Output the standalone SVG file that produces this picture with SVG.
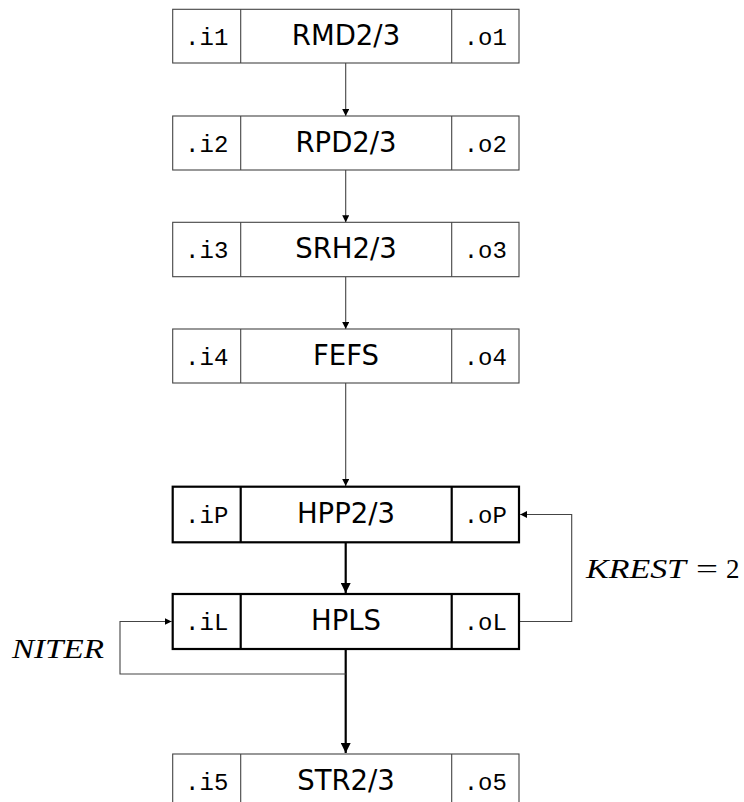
<svg xmlns="http://www.w3.org/2000/svg" width="744" height="802" viewBox="0 0 744 802">
  <style>
    .thin { fill: #fff; stroke: #444; stroke-width: 1.1; }
    .thick { fill: #fff; stroke: #000; stroke-width: 2.2; }
    .div { stroke: #444; stroke-width: 1.1; }
    .divk { stroke: #000; stroke-width: 2.2; }
    .name { font-family: "DejaVu Sans", "Liberation Sans", sans-serif; font-size: 27.5px; text-anchor: middle; fill: #000; }
    .port { font-family: "Liberation Mono", "DejaVu Sans Mono", monospace; font-size: 24px; text-anchor: middle; fill: #000; }
    .math { font-family: "Liberation Serif", "DejaVu Serif", serif; font-style: italic; font-size: 27px; fill: #000; }
    .rm { font-family: "Liberation Serif", "DejaVu Serif", serif; font-size: 27px; fill: #000; }
    .conn { fill: none; stroke: #444; stroke-width: 1.1; }
    .connk { fill: none; stroke: #000; stroke-width: 2.2; }
  </style>
  <defs>
    <marker id="ah" viewBox="0 0 10 10" refX="10" refY="5" markerUnits="userSpaceOnUse" markerWidth="7" markerHeight="7" orient="auto">
      <path d="M0,0 L10,5 L0,10 z" fill="#000"/>
    </marker>
    <marker id="ahk" viewBox="0 0 10 10" refX="10" refY="5" markerUnits="userSpaceOnUse" markerWidth="13" markerHeight="10" orient="auto">
      <path d="M0,0 L10,5 L0,10 z" fill="#000"/>
    </marker>
  </defs>

  <!-- connectors -->
  <g id="connectors">
    <line class="conn" x1="345.7" y1="63" x2="345.7" y2="116" marker-end="url(#ah)"/>
    <line class="conn" x1="345.7" y1="170" x2="345.7" y2="222.3" marker-end="url(#ah)"/>
    <line class="conn" x1="345.7" y1="276.7" x2="345.7" y2="329" marker-end="url(#ah)"/>
    <line class="conn" x1="345.7" y1="383" x2="345.7" y2="486" marker-end="url(#ah)"/>
    <line class="connk" x1="345.7" y1="542.3" x2="345.7" y2="593" marker-end="url(#ahk)"/>
    <line class="connk" x1="345.7" y1="649" x2="345.7" y2="753" marker-end="url(#ahk)"/>
    <!-- NITER loop -->
    <polyline class="conn" points="345.7,674 120,674 120,621.5 171.6,621.5" marker-end="url(#ah)"/>
    <!-- KREST loop -->
    <polyline class="conn" points="520,621.5 571.7,621.5 571.7,514.5 520.2,514.5" marker-end="url(#ah)"/>
  </g>

  <g id="rmd">
    <rect class="thin" x="172.7" y="9.3" width="346.3" height="53.7"/>
    <line class="div" x1="240.7" y1="9.3" x2="240.7" y2="63"/>
    <line class="div" x1="451.7" y1="9.3" x2="451.7" y2="63"/>
    <text class="port" x="206.7" y="44.5">.i1</text>
    <text class="name" x="346" y="44.5">RMD2/3</text>
    <text class="port" x="485.3" y="44.5">.o1</text>
  </g>

  <g id="rpd">
    <rect class="thin" x="172.7" y="116" width="346.3" height="54"/>
    <line class="div" x1="240.7" y1="116" x2="240.7" y2="170"/>
    <line class="div" x1="451.7" y1="116" x2="451.7" y2="170"/>
    <text class="port" x="206.7" y="151.5">.i2</text>
    <text class="name" x="346" y="151.5">RPD2/3</text>
    <text class="port" x="485.3" y="151.5">.o2</text>
  </g>

  <g id="srh">
    <rect class="thin" x="172.7" y="222.3" width="346.3" height="54.4"/>
    <line class="div" x1="240.7" y1="222.3" x2="240.7" y2="276.7"/>
    <line class="div" x1="451.7" y1="222.3" x2="451.7" y2="276.7"/>
    <text class="port" x="206.7" y="258">.i3</text>
    <text class="name" x="346" y="258">SRH2/3</text>
    <text class="port" x="485.3" y="258">.o3</text>
  </g>

  <g id="fefs">
    <rect class="thin" x="172.7" y="329" width="346.3" height="54"/>
    <line class="div" x1="240.7" y1="329" x2="240.7" y2="383"/>
    <line class="div" x1="451.7" y1="329" x2="451.7" y2="383"/>
    <text class="port" x="206.7" y="364.5">.i4</text>
    <text class="name" x="346" y="364.5">FEFS</text>
    <text class="port" x="485.3" y="364.5">.o4</text>
  </g>

  <g id="hpp">
    <rect class="thick" x="172.7" y="486.7" width="346.3" height="55.6"/>
    <line class="divk" x1="240.7" y1="486.7" x2="240.7" y2="542.3"/>
    <line class="divk" x1="451.7" y1="486.7" x2="451.7" y2="542.3"/>
    <text class="port" x="206.7" y="523">.iP</text>
    <text class="name" x="346" y="523">HPP2/3</text>
    <text class="port" x="485.3" y="523">.oP</text>
  </g>

  <g id="hpls">
    <rect class="thick" x="172.7" y="594" width="346.3" height="55"/>
    <line class="divk" x1="240.7" y1="594" x2="240.7" y2="649"/>
    <line class="divk" x1="451.7" y1="594" x2="451.7" y2="649"/>
    <text class="port" x="206.7" y="630">.iL</text>
    <text class="name" x="346" y="630">HPLS</text>
    <text class="port" x="485.3" y="630">.oL</text>
  </g>

  <g id="str">
    <rect class="thin" x="172.7" y="754" width="346.3" height="60"/>
    <line class="div" x1="240.7" y1="754" x2="240.7" y2="802"/>
    <line class="div" x1="451.7" y1="754" x2="451.7" y2="802"/>
    <text class="port" x="206.7" y="790">.i5</text>
    <text class="name" x="346" y="790">STR2/3</text>
    <text class="port" x="485.3" y="790">.o5</text>
  </g>

  <g id="labels">
    <text class="math" x="12" y="658" textLength="92" lengthAdjust="spacingAndGlyphs">NITER</text>
    <text class="math" x="586" y="578.3" textLength="100" lengthAdjust="spacingAndGlyphs">KREST</text>
    <text class="rm" x="696" y="578.3" textLength="22" lengthAdjust="spacingAndGlyphs">=</text>
    <text class="rm" x="726" y="578.3">2</text>
  </g>
</svg>
